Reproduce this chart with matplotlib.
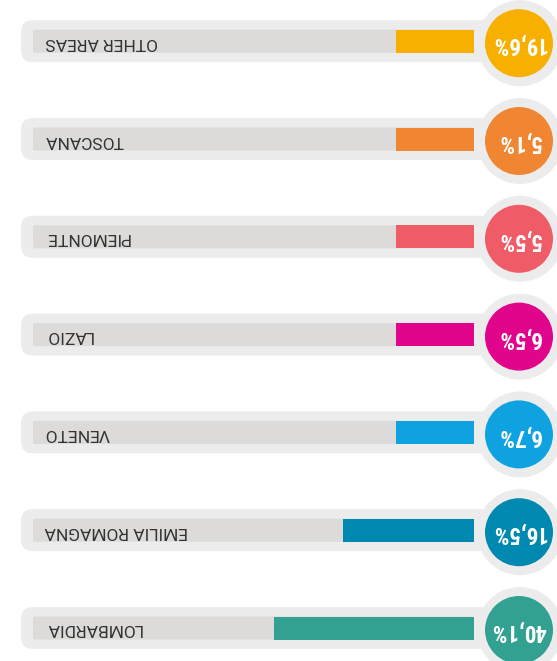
import matplotlib
matplotlib.use("Agg")
import matplotlib.pyplot as plt
from matplotlib.patches import FancyBboxPatch, Circle
from matplotlib import font_manager

# ---- data (chart is drawn rotated 180 degrees, as in the reference) ----
regions = ["LOMBARDIA", "EMILIA ROMAGNA", "VENETO", "LAZIO", "PIEMONTE", "TOSCANA", "OTHER AREAS"]
shares = ["40,1", "16,5", "6,7", "6,5", "5,5", "5,1", "19,6"]
# bar fill length, in % of the grey track
fill_share = [45.4, 29.7, 17.7, 17.7, 17.7, 17.7, 17.7]
colors = ["#32a192", "#0089b0", "#0ea3e0", "#e0058a", "#ef5b67", "#f08632", "#f7b000"]

AVAIL = {f.name for f in font_manager.fontManager.ttflist}

def pick(names):
    return [n for n in names if n in AVAIL][:1] + ["DejaVu Sans"]

num_font = pick(["Roboto Condensed", "Fira Sans Condensed", "Barlow Condensed", "Archivo Narrow",
                 "PT Sans Narrow", "Liberation Sans Narrow", "Roboto"])
lab_font = pick(["Roboto", "Liberation Sans"])

W, H = 557, 661
fig = plt.figure(figsize=(W / 100, H / 100), dpi=100)
ax = fig.add_axes([0, 0, 1, 1])
ax.set_xlim(0, W)
ax.set_ylim(H, 0)
ax.axis("off")

row0, step = 628, -97.8
track_l, track_r = 33, 474
track_h = 23
pill_l, pill_r, pill_h = 21, 500, 42
cx = 519
ring_r, dot_r = 43, 34

ys = [row0 + i * step for i in range(len(regions))]

for y in ys:
    ax.add_patch(FancyBboxPatch((pill_l + 12, y - pill_h / 2 + 12), pill_r - pill_l - 24, pill_h - 24,
                                boxstyle="round,pad=12", fc="#ececec", ec="none", zorder=1))
    ax.add_patch(Circle((cx + 1, y + 2), ring_r, fc="#ececec", ec="none", zorder=1))
    ax.add_patch(FancyBboxPatch((track_l + 2, y - track_h / 2 + 2), track_r - track_l - 4, track_h - 4,
                                boxstyle="round,pad=2", fc="#dcdbda", ec="none", zorder=2))

scale = (track_r - track_l) / 100.0
ax.barh(ys, [-f * scale for f in fill_share], left=track_r, height=track_h,
        color=colors, zorder=3)

for y, name, val, c in zip(ys, regions, shares, colors):
    ax.add_patch(Circle((cx, y + 2), dot_r, fc=c, ec="none", zorder=4))
    ax.text(45, y + 1, name, rotation=180, ha="left", va="center", fontsize=12.5,
            color="#333333", family=lab_font, zorder=5)
    ax.text(cx, y + 3, val + "%", rotation=180, ha="center", va="center", fontsize=16.5,
            fontweight="bold", color="white", family=num_font, zorder=5)

fig.savefig("out.png", dpi=100)
